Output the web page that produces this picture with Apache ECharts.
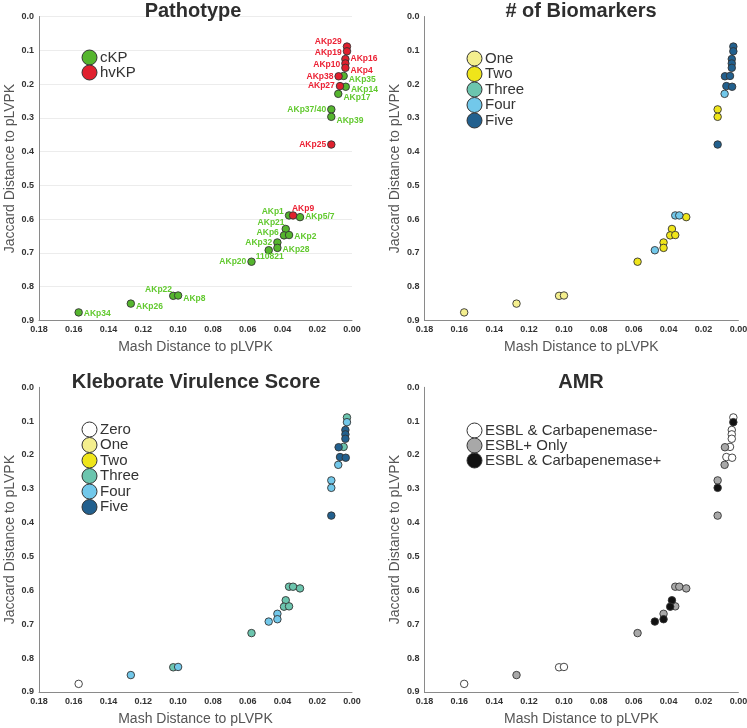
<!DOCTYPE html>
<html>
<head>
<meta charset="utf-8">
<script src="https://cdn.jsdelivr.net/npm/echarts@6/dist/echarts.min.js"></script>
<style>html,body{margin:0;padding:0;background:#fff}#c{width:747px;height:728px}</style>
</head>
<body>
<div id="c"></div>
<script>
// ---- data ----
const strains = ['AKp29','AKp19','AKp16','AKp10','AKp4','AKp38','AKp35','AKp27','AKp14','AKp17','AKp37/40','AKp39','AKp25',
  'AKp1','AKp9','AKp5/7','AKp21','AKp6','AKp2','AKp32','AKp28','110821','AKp20','AKp22','AKp8','AKp26','AKp34'];
const mashDist = [0.0029,0.0029,0.0038,0.0038,0.0038,0.0077,0.0048,0.0069,0.0036,0.0079,0.0119,0.0119,0.0119,
  0.0362,0.0339,0.0299,0.0381,0.0391,0.0362,0.0429,0.0429,0.0479,0.0578,0.1028,0.1000,0.1272,0.1572];
const jaccardDist = [0.089,0.103,0.126,0.139,0.152,0.177,0.176,0.206,0.208,0.229,0.275,0.297,0.379,
  0.589,0.589,0.594,0.629,0.648,0.647,0.669,0.685,0.692,0.726,0.827,0.826,0.850,0.876];
const pathotype = ['hvKP','hvKP','hvKP','hvKP','hvKP','hvKP','cKP','hvKP','cKP','cKP','cKP','cKP','hvKP',
  'cKP','hvKP','cKP','cKP','cKP','cKP','cKP','cKP','cKP','cKP','cKP','cKP','cKP','cKP'];
const biomarkers = ['Five','Five','Five','Five','Five','Five','Five','Five','Five','Four','Two','Two','Five',
  'Four','Four','Two','Two','Two','Two','Two','Two','Four','Two','One','One','One','One'];
const virulence = ['Three','Four','Five','Five','Five','Five','Three','Five','Five','Four','Four','Four','Five',
  'Three','Three','Three','Three','Three','Three','Four','Four','Four','Three','Three','Four','Four','Zero'];
const amr = ['ESBL & Carbapenemase-','ESBL & Carbapenemase+','ESBL & Carbapenemase-','ESBL & Carbapenemase-','ESBL & Carbapenemase-',
  'ESBL+ Only','ESBL & Carbapenemase-','ESBL & Carbapenemase-','ESBL & Carbapenemase-','ESBL+ Only','ESBL+ Only','ESBL & Carbapenemase+','ESBL+ Only',
  'ESBL+ Only','ESBL+ Only','ESBL+ Only','ESBL & Carbapenemase+','ESBL & Carbapenemase+','ESBL+ Only','ESBL+ Only','ESBL & Carbapenemase+',
  'ESBL & Carbapenemase+','ESBL+ Only','ESBL & Carbapenemase-','ESBL & Carbapenemase-','ESBL+ Only','ESBL & Carbapenemase-'];

const pathotypeCats = ['cKP','hvKP'];
const biomarkerCats = ['One','Two','Three','Four','Five'];
const virulenceCats = ['Zero','One','Two','Three','Four','Five'];
const amrCats = ['ESBL & Carbapenemase-','ESBL+ Only','ESBL & Carbapenemase+'];
const panelTitles = ['Pathotype','# of Biomarkers','Kleborate Virulence Score','AMR'];
const xTicks = [0.18,0.16,0.14,0.12,0.10,0.08,0.06,0.04,0.02,0.00];
const yTicks = [0.0,0.1,0.2,0.3,0.4,0.5,0.6,0.7,0.8,0.9];

// ---- styling (kept apart from data) ----
const colors = {
  cKP:'#55b52e', hvKP:'#e0202e',
  Zero:'#ffffff', One:'#f4ef8e', Two:'#efe51a', Three:'#6cc5ae', Four:'#72c8ea', Five:'#22608e',
  'ESBL & Carbapenemase-':'#ffffff', 'ESBL+ Only':'#a8a8a8', 'ESBL & Carbapenemase+':'#111111'
};
const labelColors = {cKP:'#62c92f', hvKP:'#ec2235'};
const labelPlace = {
  'AKp29':['left',[0,-5]], 'AKp19':['left',[0,1]], 'AKp16':['right',[0,0]], 'AKp10':['left',[0,1]],
  'AKp4':['right',[0,3]], 'AKp38':['left',[0,0]], 'AKp35':['right',[0,4]], 'AKp27':['left',[0,0]],
  'AKp14':['right',[0,3]], 'AKp17':['right',[0,4]], 'AKp37/40':['left',[0,0]], 'AKp39':['right',[0,4]],
  'AKp25':['left',[0,0]], 'AKp1':['left',[0,-4]], 'AKp9':['top',[10,3]], 'AKp5/7':['right',[0,0]],
  'AKp21':['left',[4,-6]], 'AKp6':['left',[0,-3]], 'AKp2':['right',[0,2]], 'AKp32':['left',[0,0]],
  'AKp28':['right',[0,2]], '110821':['bottom',[1,-3]], 'AKp20':['left',[0,0]], 'AKp22':['left',[4,-6]],
  'AKp8':['right',[0,3]], 'AKp26':['right',[0,3]], 'AKp34':['right',[0,1]]
};
const FONT = 'Liberation Sans, Arial, sans-serif';
const grids = [
  {left:39, top:16.5, width:313, height:304},
  {left:424.4, top:16.5, width:314, height:304},
  {left:39, top:387.3, width:313, height:304.7},
  {left:424.4, top:387.3, width:314, height:304.7}
];
const titlePos = [[193,1],[581,1],[196,372],[581,372]];
const legendPos = [[81.5,49.5],[466.5,50.5],[81.5,421.5],[466.5,422.5]];
const legendGaps = [-1,-0.5,-0.5,-1];
const panelCats = [pathotypeCats, biomarkerCats, virulenceCats, amrCats];
const panelField = [pathotype, biomarkers, virulence, amr];

const option = {
  animation:false,
  backgroundColor:'#fff',
  title: panelTitles.map((t,i)=>({text:t, left:titlePos[i][0], top:titlePos[i][1], textAlign:'center', padding:0,
    textStyle:{fontFamily:FONT, fontSize:20, fontWeight:'bold', color:'#2e2e2e', lineHeight:20}})),
  grid: grids.map(g=>Object.assign({outerBoundsMode:'none', containLabel:false}, g)),
  xAxis: grids.map((g,i)=>({gridIndex:i, type:'value', min:0, max:0.18, interval:0.02, inverse:true,
    name:'Mash Distance to pLVPK', nameLocation:'middle', nameGap:20,
    nameTextStyle:{fontFamily:FONT, fontSize:14, color:'#555'},
    axisLine:{show:true, onZero:false, lineStyle:{color:'#8a8a8a', width:1}},
    axisTick:{show:false},
    axisLabel:{fontFamily:FONT, fontSize:9, fontWeight:'bold', color:'#333', margin:5,
      formatter:v=>{const t=xTicks.find(x=>Math.abs(x-v)<1e-9); return (t===undefined?v:t).toFixed(2);}},
    splitLine:{show:false}})),
  yAxis: grids.map((g,i)=>({gridIndex:i, type:'value', min:0, max:0.9, interval:0.1, inverse:true,
    name:'Jaccard Distance to pLVPK', nameLocation:'middle', nameGap:22,
    nameTextStyle:{fontFamily:FONT, fontSize:14, color:'#555'},
    axisLine:{show:true, onZero:false, lineStyle:{color:'#8a8a8a', width:1}},
    axisTick:{show:false},
    axisLabel:{fontFamily:FONT, fontSize:9, fontWeight:'bold', color:'#333', margin:5,
      formatter:v=>{const t=yTicks.find(y=>Math.abs(y-v)<1e-9); return (t===undefined?v:t).toFixed(1);}},
    splitLine:{show:i===0, lineStyle:{color:'#ececec', width:1}}})),
  legend: panelCats.map((cats,i)=>({data:cats, orient:'vertical', left:legendPos[i][0], top:legendPos[i][1],
    padding:0, itemWidth:15, itemHeight:15, itemGap:legendGaps[i], icon:'circle', selectedMode:false,
    itemStyle:{borderColor:'#333', borderWidth:1},
    textStyle:{fontFamily:FONT, fontSize:15, color:'#333', lineHeight:15, padding:[0,0,0,-2]}})),
  series: []
};

panelCats.forEach((cats,p)=>{
  cats.forEach(cat=>{
    const data = [];
    strains.forEach((s,k)=>{
      if (panelField[p][k] !== cat) return;
      const item = {name:s, value:[mashDist[k], jaccardDist[k]]};
      if (p===0) {
        const lp = labelPlace[s];
        item.label = {show:true, position:lp[0], offset:lp[1], formatter:s};
      }
      data.push(item);
    });
    option.series.push({
      type:'scatter', name:cat, xAxisIndex:p, yAxisIndex:p, data:data,
      symbol:'circle', symbolSize:7.5,
      itemStyle:{color:colors[cat], borderColor:'#333', borderWidth:0.9, opacity:1},
      label:{show:p===0, distance:1, fontFamily:FONT, fontSize:8.5, fontWeight:'bold',
        color:labelColors[cat] || '#333'},
      emphasis:{disabled:true},
      z: p===0 && cat==='hvKP' ? 3 : 2
    });
  });
});

const chart = echarts.init(document.getElementById('c'), null, {renderer:'canvas'});
chart.setOption(option);
</script>
</body>
</html>
